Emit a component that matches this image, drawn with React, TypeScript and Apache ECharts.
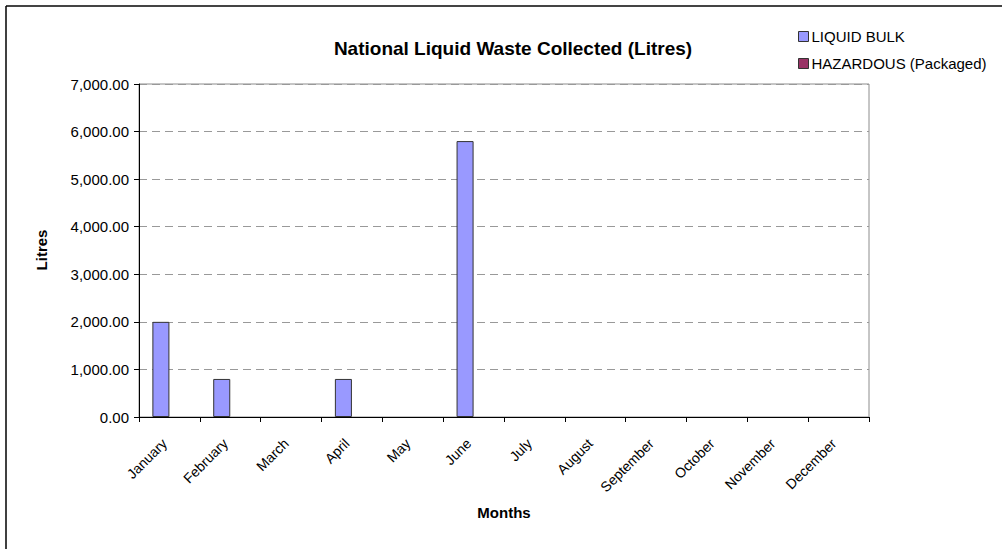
import React, { useEffect, useRef } from "react";
import * as echarts from "echarts";

const months = ["January", "February", "March", "April", "May", "June", "July", "August", "September", "October", "November", "December"];
const liquidBulk = [2000, 800, 0, 800, 0, 5800, 0, 0, 0, 0, 0, 0];
const hazardous = [0, 0, 0, 0, 0, 0, 0, 0, 0, 0, 0, 0];
const seriesNames = ["LIQUID BULK", "HAZARDOUS (Packaged)"];
const yTicks = { min: 0, max: 7000, interval: 1000 };

const FONT = "'Liberation Sans', Arial, sans-serif";

const toBars = (vals: number[]) =>
  vals.map((v) => ({ value: v, itemStyle: { borderWidth: v === 0 ? 0 : 1 } }));

export default function App() {
  const ref = useRef<HTMLDivElement>(null);
  useEffect(() => {
    if (!ref.current) return;
    const chart = echarts.init(ref.current, undefined, { renderer: "svg" });
    chart.setOption({
      animation: false,
      backgroundColor: "#ffffff",
      textStyle: { fontFamily: FONT },
      title: {
        text: "National Liquid Waste Collected (Litres)",
        left: 508,
        top: 34,
        textAlign: "center",
        textStyle: { fontFamily: FONT, fontSize: 19, fontWeight: "bold", color: "#000" },
      },
      legend: {
        orient: "vertical",
        left: 798,
        top: 29,
        padding: 0,
        itemWidth: 10,
        itemHeight: 10,
        itemGap: 12,
        icon: "rect",
        itemStyle: { borderColor: "#333", borderWidth: 1 },
        textStyle: { fontFamily: FONT, fontSize: 15, color: "#000", padding: [0, 0, 0, -2] },
        data: seriesNames,
      },
      grid: {
        left: 139,
        right: 133,
        top: 84,
        bottom: 132,
        show: true,
        borderColor: "#8c8c8c",
        borderWidth: 1,
        backgroundColor: "#ffffff",
      },
      xAxis: {
        type: "category",
        data: months,
        boundaryGap: true,
        axisLine: { show: true, lineStyle: { color: "#000", width: 1 } },
        axisTick: { show: true, alignWithLabel: false, length: 5, lineStyle: { color: "#000" } },
        axisLabel: {
          rotate: 45,
          fontFamily: FONT,
          fontSize: 14,
          color: "#000",
          margin: 29,
          interval: 0,
          align: "right",
          verticalAlign: "bottom",
        },
        splitLine: { show: false },
      },
      yAxis: {
        type: "value",
        min: yTicks.min,
        max: yTicks.max,
        interval: yTicks.interval,
        axisLine: { show: true, lineStyle: { color: "#000", width: 1 } },
        axisTick: { show: true, length: 5, lineStyle: { color: "#000" } },
        axisLabel: {
          fontFamily: FONT,
          fontSize: 15,
          color: "#000",
          margin: 10,
          formatter: (v: number) => v.toLocaleString("en-US", { minimumFractionDigits: 2, maximumFractionDigits: 2 }),
        },
        splitLine: { show: true, lineStyle: { color: "#999", type: [8, 5], width: 1 } },
      },
      graphic: [
        { type: "line", shape: { x1: 6, y1: 6, x2: 1002, y2: 6 }, style: { stroke: "#444", lineWidth: 2 } },
        { type: "line", shape: { x1: 6, y1: 6, x2: 6, y2: 549 }, style: { stroke: "#000", lineWidth: 1.5 } },
        {
          type: "text",
          x: 504,
          y: 512,
          style: { text: "Months", fontFamily: FONT, fontSize: 15, fontWeight: "bold", fill: "#000", align: "center", verticalAlign: "middle" },
        },
        {
          type: "text",
          x: 41,
          y: 250,
          rotation: Math.PI / 2,
          style: { text: "Litres", fontFamily: FONT, fontSize: 15, fontWeight: "bold", fill: "#000", align: "center", verticalAlign: "middle" },
        },
      ],
      series: [
        {
          name: seriesNames[0],
          type: "bar",
          data: toBars(liquidBulk),
          barGap: "0%",
          barCategoryGap: "44%",
          itemStyle: { color: "#9999ff", borderColor: "#333", borderWidth: 1 },
        },
        {
          name: seriesNames[1],
          type: "bar",
          data: toBars(hazardous),
          itemStyle: { color: "#993366", borderColor: "#333", borderWidth: 1 },
        },
      ],
    });
    return () => chart.dispose();
  }, []);
  return <div ref={ref} style={{ width: 1002, height: 549, position: "absolute", left: 0, top: 0 }} />;
}
